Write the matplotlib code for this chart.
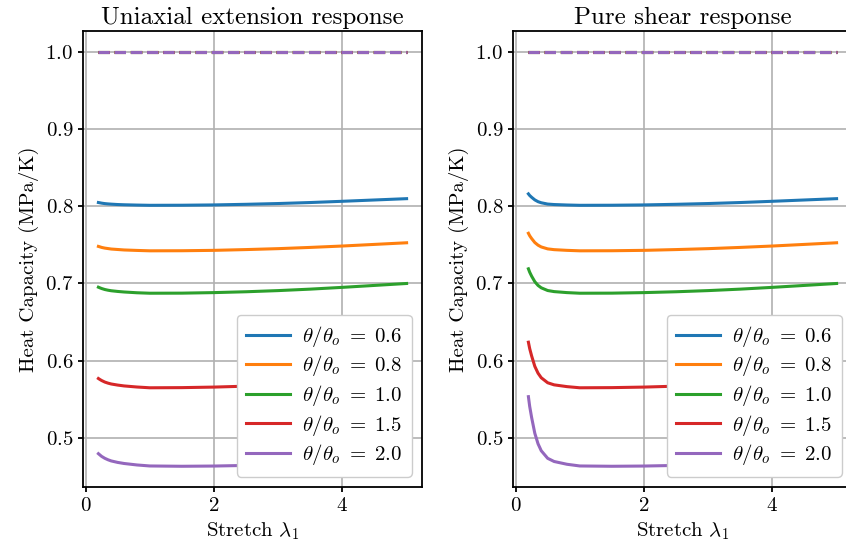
import matplotlib
matplotlib.use("Agg")
import matplotlib.pyplot as plt

plt.rcParams["font.family"] = "serif"
plt.rcParams["font.serif"] = ["cmr10", "DejaVu Serif"]
plt.rcParams["mathtext.fontset"] = "cm"
plt.rcParams["axes.formatter.use_mathtext"] = True
plt.rcParams["font.size"] = 15

# stretch values
stretch = [0.2, 0.22, 0.25, 0.3, 0.35, 0.4, 0.5, 0.6, 0.8, 1.0,
           1.5, 2.0, 2.5, 3.0, 3.5, 4.0, 4.5, 5.0]

temps = ["0.6", "0.8", "1.0", "1.5", "2.0"]
colors = ["#1f77b4", "#ff7f0e", "#2ca02c", "#d62728", "#9467bd"]

# uniaxial extension
uni_06 = [0.8048, 0.8045, 0.8040, 0.8034, 0.8030, 0.8027, 0.8022, 0.8019, 0.8015, 0.8012,
          0.8013, 0.8017, 0.8025, 0.8035, 0.8048, 0.8064, 0.8081, 0.8098]
uni_08 = [0.7480, 0.7475, 0.7467, 0.7458, 0.7452, 0.7446, 0.7440, 0.7434, 0.7428, 0.7423,
          0.7424, 0.7429, 0.7439, 0.7451, 0.7467, 0.7485, 0.7506, 0.7527]
uni_10 = [0.6952, 0.6945, 0.6935, 0.6922, 0.6913, 0.6906, 0.6897, 0.6890, 0.6880, 0.6874,
          0.6875, 0.6882, 0.6893, 0.6908, 0.6927, 0.6950, 0.6975, 0.7000]
uni_15 = [0.5770, 0.5759, 0.5744, 0.5724, 0.5710, 0.5699, 0.5685, 0.5674, 0.5660, 0.5650,
          0.5652, 0.5659, 0.5671, 0.5691, 0.5713, 0.5740, 0.5770, 0.5800]
uni_20 = [0.4797, 0.4783, 0.4762, 0.4737, 0.4718, 0.4703, 0.4684, 0.4670, 0.4651, 0.4638,
          0.4634, 0.4637, 0.4645, 0.4660, 0.4680, 0.4705, 0.4735, 0.4770]

# pure shear
ps_06 = [0.8160, 0.8139, 0.8116, 0.8082, 0.8059, 0.8045, 0.8028, 0.8022, 0.8016, 0.8012,
         0.8013, 0.8017, 0.8025, 0.8035, 0.8048, 0.8064, 0.8081, 0.8098]
ps_08 = [0.7650, 0.7618, 0.7582, 0.7530, 0.7496, 0.7473, 0.7448, 0.7438, 0.7429, 0.7423,
         0.7424, 0.7429, 0.7439, 0.7451, 0.7467, 0.7485, 0.7506, 0.7527]
ps_10 = [0.7190, 0.7146, 0.7095, 0.7023, 0.6975, 0.6944, 0.6909, 0.6895, 0.6882, 0.6874,
         0.6875, 0.6882, 0.6893, 0.6908, 0.6927, 0.6950, 0.6975, 0.7000]
ps_15 = [0.6240, 0.6157, 0.6063, 0.5927, 0.5839, 0.5780, 0.5715, 0.5688, 0.5665, 0.5650,
         0.5652, 0.5659, 0.5671, 0.5691, 0.5713, 0.5740, 0.5770, 0.5800]
ps_20 = [0.5535, 0.5409, 0.5266, 0.5060, 0.4925, 0.4835, 0.4737, 0.4696, 0.4660, 0.4638,
         0.4634, 0.4637, 0.4645, 0.4660, 0.4680, 0.4705, 0.4735, 0.4770]

# reference level (dashed)
reference = [1.0] * len(stretch)

panels = [
    ("Uniaxial extension response", [uni_06, uni_08, uni_10, uni_15, uni_20]),
    ("Pure shear response", [ps_06, ps_08, ps_10, ps_15, ps_20]),
]

fig = plt.figure(figsize=(8.46, 5.52), dpi=100)
lefts = [83 / 846, 513 / 846]
W = 339 / 846
B = 65 / 552
H = 456 / 552

for (title, series), left in zip(panels, lefts):
    ax = fig.add_axes([left, B, W, H])
    for t, c, y in zip(temps, colors, series):
        ax.plot(stretch, y, color=c, lw=2.2,
                label=r"$\theta/\theta_o\;=\;%s$" % t)
    for c in colors:
        ax.plot(stretch, reference, "--", color=c, lw=2.2)
    ax.set_title(title, pad=5)
    ax.set_xlabel(r"Stretch $\lambda_1$")
    ax.set_ylabel("Heat Capacity (MPa/K)")
    ax.set_xticks([0, 2, 4])
    ax.grid(True, lw=1.2)
    for s in ax.spines.values():
        s.set_linewidth(1.3)
    ax.tick_params(width=1.3)
    ax.legend(loc="lower right", framealpha=1, labelspacing=0.22,
              handlelength=2.1, handletextpad=0.6, borderpad=0.45)

fig.savefig("out.png", dpi=100)
